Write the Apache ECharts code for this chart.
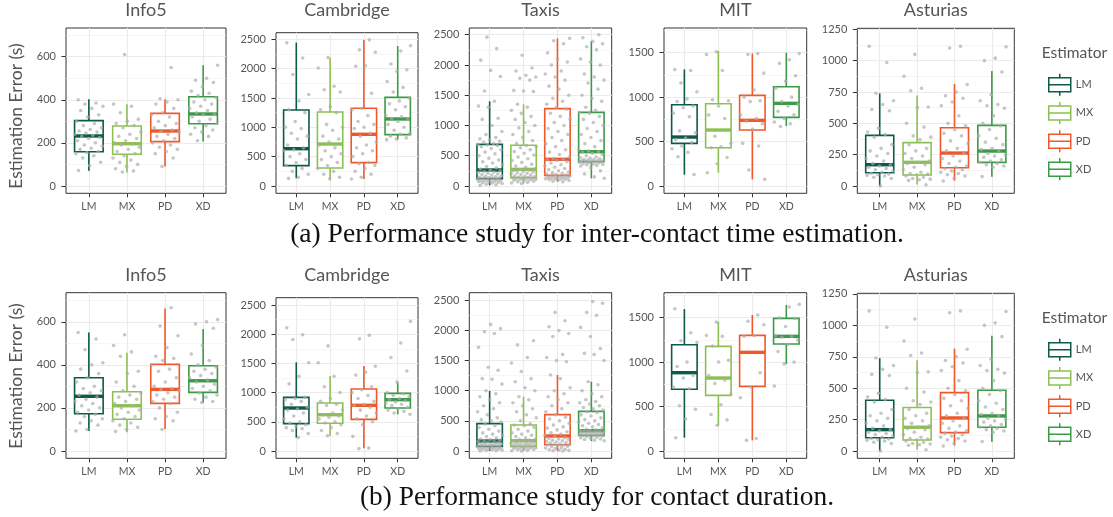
<!DOCTYPE html>
<html><head><meta charset="utf-8">
<script src="https://cdn.jsdelivr.net/npm/echarts@6/dist/echarts.min.js"></script>
<style>html,body{margin:0;padding:0;background:#fff}#c{width:1113px;height:517px}</style>
</head><body><div id="c"></div>
<script>
const estimators = ['LM','MX','PD','XD'];
const datasetNames = ['Info5','Cambridge','Taxis','MIT','Asturias'];
const captions = ['(a) Performance study for inter-contact time estimation.','(b) Performance study for contact duration.'];
const yTitle = 'Estimation Error (s)';
const legendTitle = 'Estimator';
const palette = ['#0c5a48','#8cc152','#f0582a','#3b9a45'];

const ticks_Info5 = [0,200,400,600];
const ticks_Cambridge = [0,500,1000,1500,2000,2500];
const ticks_Taxis = [0,500,1000,1500,2000,2500];
const ticks_MIT = [0,500,1000,1500];
const ticks_Asturias = [0,250,500,750,1000,1250];

// box stats: [lower whisker, Q1, median, Q3, upper whisker] for LM, MX, PD, XD
const boxA_Info5 = [[71,159,232,303,402],[62,147,196,278,379],[90,206,255,337,402],[206,289,334,414,560]];
const boxA_Cambridge = [[131,347,636,1295,2443],[119,307,716,1261,2187],[119,398,881,1324,2489],[790,875,1142,1511,2386]];
const boxA_Taxis = [[10,121,264,688,1399],[40,138,275,672,1349],[70,176,441,1278,2440],[127,402,567,1217,2395]];
const boxA_MIT = [[127,480,551,915,1312],[150,431,630,926,1519],[75,630,739,1020,1492],[675,772,930,1117,1500]];
const box_Asturias = [[0,106,170,404,739],[13,88,189,346,723],[43,146,263,465,814],[74,189,279,484,918]];
const boxB_Info5 = [[93,173,254,340,550],[87,147,210,275,456],[102,221,286,402,662],[224,272,326,396,566]];
const boxB_Cambridge = [[228,468,736,919,1518],[257,474,622,822,1284],[46,542,782,1062,1455],[628,736,879,987,1176]];
const boxB_Taxis = [[0,77,166,454,996],[0,77,171,431,902],[0,105,249,603,1261],[166,260,337,658,1150]];
const boxB_MIT = [[150,694,881,1196,1597],[285,626,821,1177,1455],[120,727,1110,1301,1530],[979,1204,1290,1492,1642]];

// observations (LM, MX, PD, XD)
const ptsA_Info5 = [
 [400,385,380,370,360,350,330,320,300,290,280,270,262,255,250,245,240,235,230,225,220,210,200,190,185,175,170,160,155,150,140,130,110,95,72],
 [610,380,370,340,310,300,290,280,270,250,240,230,220,210,200,195,190,180,170,160,150,140,130,120,110,100,90,80,70,65],
 [550,405,400,390,380,360,340,330,320,300,290,280,270,260,255,250,240,230,220,210,200,190,180,170,160,150,130,90],
 [560,500,490,480,460,440,430,420,410,400,390,380,370,360,350,340,335,330,320,310,300,290,280,270,260,250,240,230,210]];
const ptsA_Cambridge = [
 [2440,2180,1900,1560,1450,1300,1250,1100,1000,980,900,850,800,700,650,620,600,550,500,450,400,350,300,250,200,150,130],
 [2190,2010,1700,1640,1600,1350,1300,1250,1050,1000,950,850,800,750,700,650,600,550,500,450,400,350,300,250,200,150,120],
 [2490,2320,2280,2050,2040,1580,1320,1300,1200,1100,1050,1000,980,900,850,750,700,650,600,550,500,400,380,350,300,250,200,150,120],
 [2390,2300,2080,1980,1950,1780,1680,1600,1500,1450,1400,1350,1300,1200,1180,1150,1140,1100,1050,1000,950,900,880,850,820,800,790]];
const ptsA_Taxis = [
 [10,20,30,40,50,55,60,70,75,80,85,90,95,100,105,110,115,125,130,135,140,145,150,160,170,180,190,200,210,220,230,240,250,260,280,300,320,350,380,400,430,460,500,530,560,600,620,650,670,680,690,700,720,740,760,780,800,850,900,1000,1100,1120,1300,1320,1400,1570,1810,1910,2080,2270,2460],
 [40,50,60,70,80,90,95,100,105,110,115,120,125,130,135,140,145,150,160,170,180,190,200,210,220,230,240,250,260,270,290,310,330,360,390,420,450,480,510,540,570,600,630,650,670,700,750,800,850,900,960,1000,1050,1100,1150,1200,1250,1300,1350,1560,1570,1580,1750,1780,1800,1830,1900,1950,2160],
 [70,80,90,100,105,110,115,120,125,130,135,140,145,150,155,160,165,170,180,190,200,210,220,230,250,270,290,310,330,350,380,400,420,430,440,450,480,520,560,600,650,700,750,800,850,900,950,1000,1050,1100,1150,1200,1270,1300,1350,1400,1450,1500,1600,1650,1750,1800,1850,1900,2000,2050,2100,2200,2350,2400,2440],
 [127,150,200,250,300,330,340,350,355,360,370,380,385,390,395,400,405,410,415,420,425,430,435,440,450,460,470,480,500,520,540,560,565,580,600,650,700,750,800,850,900,950,1000,1050,1100,1150,1200,1210,1250,1300,1400,1450,1500,1600,1700,1750,1800,1850,2000,2050,2100,2250,2300,2350,2390,2450,2500]];
const ptsA_MIT = [
 [1310,1300,1160,1060,980,950,900,880,820,780,620,600,540,520,490,450,420,380,330,130],
 [1510,1480,1300,970,960,900,800,760,560,480,440,430,320,250,150],
 [1490,1480,1270,1080,1000,960,950,800,760,730,700,640,480,450,180,75],
 [1490,1420,1380,1240,1180,1100,1000,950,920,900,840,800,760,720,700,670]];
const pts_Asturias = [
 [1115,985,740,680,650,610,600,460,430,410,390,330,300,280,260,240,220,200,180,170,160,150,140,130,120,110,100,95,90,85,80,70,60,0],
 [1050,875,780,760,630,625,500,470,400,390,370,330,300,280,260,240,220,200,190,180,170,150,130,110,100,95,90,80,70,60,55,50,45,10],
 [1115,1100,810,750,720,700,670,640,560,500,480,450,420,400,360,340,300,280,260,240,220,200,180,160,150,140,130,120,110,100,90,80,60,40],
 [1110,1020,1000,910,730,680,650,640,620,560,500,480,450,400,380,350,330,300,290,280,260,250,240,230,210,200,190,180,170,160,150,75]];
const ptsB_Info5 = [
 [550,520,470,410,400,380,360,340,320,300,290,280,270,260,250,240,230,220,210,200,190,180,170,160,150,140,130,120,100,93],
 [540,490,460,440,370,360,320,300,280,270,260,250,240,230,220,210,200,190,180,170,160,150,140,130,120,110,100,90],
 [665,580,535,480,440,430,420,400,380,370,340,320,300,290,285,280,270,260,250,240,230,220,200,180,160,150,140,100],
 [610,600,590,570,490,450,420,400,390,380,370,360,350,340,330,320,310,300,290,280,270,260,250,240,230,225]];
const ptsB_Cambridge = [
 [2110,1990,1910,1510,1280,1150,920,900,880,850,800,750,720,700,650,600,550,500,480,450,420,400,380,350,300,230],
 [1800,1510,1280,1100,1000,900,850,800,780,700,650,620,600,580,550,500,480,450,400,350,300,260],
 [1980,1920,1450,1350,1300,1100,1050,1000,950,900,850,800,780,750,700,650,600,550,500,450,250,50,40],
 [2220,1850,1600,1370,1180,1000,980,950,930,900,880,860,840,820,800,780,750,720,700,680,650,630]];
const ptsB_Taxis = [
 [0,5,10,15,20,25,30,35,40,45,50,55,60,65,70,75,80,85,90,95,100,105,110,115,120,125,130,140,150,160,165,170,180,190,200,220,240,260,280,300,330,360,390,420,450,480,500,520,550,600,650,700,750,800,850,900,950,1000,1110,1190,1200,1340,1390,1720,1950,1980,2030,2100],
 [0,5,10,20,25,30,40,45,50,55,60,65,70,75,80,90,95,100,105,110,115,120,125,130,140,150,160,170,180,190,200,220,240,260,280,300,330,360,390,420,430,450,500,550,600,650,700,750,800,850,900,1000,1050,1150,1200,1320,1460,1550,1760,1830],
 [0,5,10,15,20,30,40,50,60,70,80,90,100,100,110,115,120,130,140,150,160,170,180,190,200,210,220,240,260,280,300,320,350,380,400,430,460,500,530,560,600,650,700,750,800,850,900,950,1000,1050,1200,1260,1480,1500,1550,1600,1900,1950,2000,2060,2160,2300],
 [170,180,190,200,210,220,230,240,250,255,260,265,270,275,280,285,290,295,300,305,310,315,320,325,330,335,340,350,360,380,400,420,440,460,480,500,520,550,580,600,640,650,680,700,720,750,780,800,820,850,900,950,1000,1100,1150,1500,1600,1620,1700,1900,2050,2250,2300,2450,2480]];
const ptsB_MIT = [
 [1600,1330,1240,1220,1000,950,850,820,720,700,510,470,360,150],
 [1450,1300,1290,1180,1020,1000,850,800,760,640,520,410,350,290],
 [1530,1460,1420,1300,1290,880,720,600,140,120],
 [1650,1620,1500,1490,1400,1300,1290,1280,1250,1200,1120,1000,980,730]];

const tickSets = [ticks_Info5, ticks_Cambridge, ticks_Taxis, ticks_MIT, ticks_Asturias];
const rowBoxes = [[boxA_Info5,boxA_Cambridge,boxA_Taxis,boxA_MIT,box_Asturias],[boxB_Info5,boxB_Cambridge,boxB_Taxis,boxB_MIT,box_Asturias]];
const rowPts = [[ptsA_Info5,ptsA_Cambridge,ptsA_Taxis,ptsA_MIT,pts_Asturias],[ptsB_Info5,ptsB_Cambridge,ptsB_Taxis,ptsB_MIT,pts_Asturias]];

// ---- layout (pixels) ----
const panelX = [[66,226],[276,418],[469.3,611.7],[664,806.7],[857.3,1014.3]];
const rowLayout = [
  {tops:[28,32.7,28,28,28.3], bottom:193.3, ranges:[[-34,733],[-124,2612],[-121,2611],[-82,1778],[-58,1258]], titleY:10, yTitleY:116, captionY:235},
  {tops:[292.7,297.7,292.7,292.7,293.3], bottom:458.3, ranges:[[-34,735],[-125,2625],[-121,2626],[-82,1781],[-58,1255]], titleY:275, yTitleY:376, captionY:498}
];
const SANS = 'Lato, "Open Sans", sans-serif';
const grey = '#555';

function minorOf(ticks, lo, hi) {
  const step = ticks[1] - ticks[0], out = [];
  for (let v = ticks[0] - step / 2; v < hi; v += step) if (v > lo) out.push(v);
  return out;
}
function jit(i, k) { return ((i * 0.6180339887 + k * 0.29 + 0.13) % 1 - 0.5) * 0.76; }

function renderBox(params, api) {
  const x = api.value(0);
  const lo = api.coord([x, api.value(1)]);
  const q1 = api.coord([x, api.value(2)]);
  const md = api.coord([x, api.value(3)]);
  const q3 = api.coord([x, api.value(4)]);
  const hi = api.coord([x, api.value(5)]);
  const w = api.size([0.75, 0])[0];
  const col = api.visual('color');
  const px = lo[0];
  return {type: 'group', children: [
    {type: 'line', shape: {x1: px, y1: hi[1], x2: px, y2: q3[1]}, style: {stroke: col, lineWidth: 1.6}},
    {type: 'line', shape: {x1: px, y1: q1[1], x2: px, y2: lo[1]}, style: {stroke: col, lineWidth: 1.6}},
    {type: 'rect', shape: {x: px - w / 2, y: q3[1], width: w, height: q1[1] - q3[1]}, style: {fill: '#fff', stroke: col, lineWidth: 1.6}},
    {type: 'line', shape: {x1: px - w / 2, y1: md[1], x2: px + w / 2, y2: md[1]}, style: {stroke: col, lineWidth: 3.4}}
  ]};
}

const grids = [], xAxes = [], yAxes = [], series = [], graphics = [];
rowLayout.forEach((row, r) => {
  datasetNames.forEach((name, d) => {
    const p = r * 5 + d;
    const [x0, x1] = panelX[d];
    const top = row.tops[d];
    const [lo, hi] = row.ranges[d];
    const ticks = tickSets[d];
    grids.push({left: x0, top: top, width: x1 - x0, height: row.bottom - top, show: true,
      borderColor: '#333', borderWidth: 1, backgroundColor: '#fff', outerBoundsMode: 'none'});
    xAxes.push({type: 'value', gridIndex: p, min: 0.4, max: 4.6,
      axisLine: {show: false, onZero: false},
      axisTick: {show: true, customValues: [1,2,3,4], length: 4, lineStyle: {color: '#333'}},
      axisLabel: {customValues: [1,2,3,4], formatter: v => estimators[Math.round(v) - 1], margin: 8, fontSize: 10.5, color: grey, fontFamily: SANS},
      splitLine: {show: true, lineStyle: {color: '#ebebeb', width: 1.1}}});
    yAxes.push({type: 'value', gridIndex: p, min: lo, max: hi,
      axisLine: {show: false},
      axisTick: {show: true, customValues: ticks, length: 4.5, lineStyle: {color: '#333'}},
      axisLabel: {customValues: ticks, formatter: v => String(v), margin: 10, fontSize: 11, color: grey, fontFamily: SANS},
      splitLine: {show: true, lineStyle: {color: '#ebebeb', width: 1.1}}});
    yAxes.push({type: 'value', gridIndex: p, min: lo, max: hi, position: 'right',
      axisLine: {show: false},
      axisTick: {show: false, customValues: minorOf(ticks, lo, hi)},
      axisLabel: {show: false},
      splitLine: {show: true, lineStyle: {color: '#f2f2f2', width: 0.7}}});
    const boxes = rowBoxes[r][d];
    estimators.forEach((e, k) => {
      series.push({type: 'custom', name: e, xAxisIndex: p, yAxisIndex: 2 * p, renderItem: renderBox,
        itemStyle: {color: palette[k]}, encode: {x: 0, y: [1,2,3,4,5]}, silent: true, z: 3,
        data: [[k + 1].concat(boxes[k])]});
    });
    const pts = [];
    rowPts[r][d].forEach((arr, k) => arr.forEach((v, i) => pts.push([k + 1 + jit(i, k), v])));
    series.push({type: 'scatter', name: 'obs', xAxisIndex: p, yAxisIndex: 2 * p, symbolSize: 3.6, silent: true, z: 4,
      itemStyle: {color: 'rgba(172,172,172,0.85)'}, data: pts});
    graphics.push({type: 'text', x: (x0 + x1) / 2, y: row.titleY, silent: true,
      style: {text: name, fill: '#555', font: '18px ' + SANS, textAlign: 'center', textVerticalAlign: 'middle'}});
  });
  graphics.push({type: 'text', x: 16, y: row.yTitleY, rotation: Math.PI / 2, silent: true,
    style: {text: yTitle, fill: '#555', font: '17.5px ' + SANS, textAlign: 'center', textVerticalAlign: 'middle'}});
  // fit caption to the reference width
  const ctx = document.createElement('canvas').getContext('2d');
  ctx.font = '20px "Liberation Serif"';
  const target = r === 0 ? 614 : 474;
  const fs = 20 * target / ctx.measureText(captions[r]).width;
  graphics.push({type: 'text', x: 597, y: row.captionY, silent: true,
    style: {text: captions[r], fill: '#111', font: fs.toFixed(2) + 'px "Liberation Serif"', textAlign: 'center', textVerticalAlign: 'middle'}});
  graphics.push({type: 'text', x: 1041.7, y: r === 0 ? 53 : 318, silent: true,
    style: {text: legendTitle, fill: '#555', font: '15.5px ' + SANS, textAlign: 'left', textVerticalAlign: 'middle'}});
});

const legendIcon = 'path://M0,4H22V18H0ZM11,0V4M11,18V22M0,11H22';
const legends = [68, 333].map(t => ({orient: 'vertical', left: 1043, top: t, itemWidth: 22, itemHeight: 22, itemGap: 4.7,
  selectedMode: false, icon: legendIcon, textStyle: {color: grey, fontSize: 11, fontFamily: SANS},
  data: estimators.map((e, i) => ({name: e, itemStyle: {color: '#fff', borderColor: palette[i], borderWidth: 1.5}}))}));

const chart = echarts.init(document.getElementById('c'), null, {renderer: 'canvas'});
chart.setOption({animation: false, backgroundColor: '#fff', grid: grids, xAxis: xAxes, yAxis: yAxes,
  series: series, legend: legends, graphic: graphics});
</script></body></html>
